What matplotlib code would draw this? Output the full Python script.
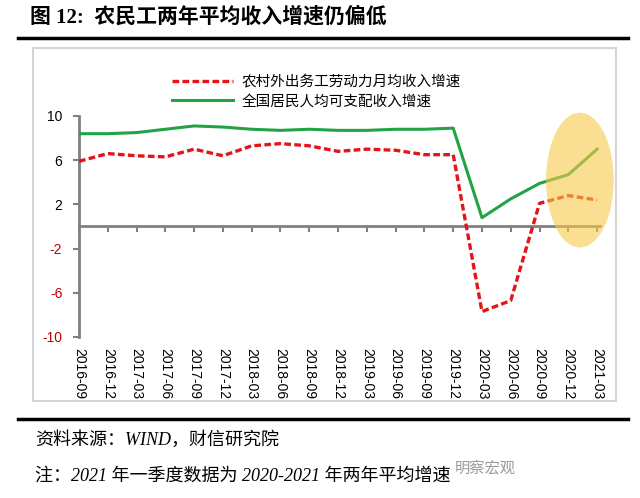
import matplotlib.pyplot as plt
from matplotlib.patches import Ellipse, Rectangle
from matplotlib.lines import Line2D

plt.rcParams['font.family'] = ['Liberation Sans', 'Noto Sans CJK SC']

# data
quarters = ['2016-09', '2016-12', '2017-03', '2017-06', '2017-09', '2017-12',
            '2018-03', '2018-06', '2018-09', '2018-12', '2019-03', '2019-06',
            '2019-09', '2019-12', '2020-03', '2020-06', '2020-09', '2020-12',
            '2021-03']
migrant = [5.9, 6.6, 6.4, 6.3, 7.0, 6.4, 7.3, 7.5, 7.3, 6.8, 7.0, 6.9,
           6.5, 6.5, -7.7, -6.7, 2.1, 2.8, 2.4]
resident = [8.4, 8.4, 8.5, 8.8, 9.1, 9.0, 8.8, 8.7, 8.8, 8.7, 8.7, 8.8,
            8.8, 8.9, 0.8, 2.5, 3.9, 4.7, 7.0]
yticks = [10, 6, 2, -2, -6, -10]
label_migrant = '农村外出务工劳动力月均收入增速'
label_resident = '全国居民人均可支配收入增速'

W, H = 640, 498
fig = plt.figure(figsize=(W / 100, H / 100), dpi=100)

def fx(px):
    return px / W

def fy(py):
    return 1 - py / H

# title, rules and frame
fig.text(fx(30), fy(17), '图 12:  农民工两年平均收入增速仍偏低', fontsize=15,
         fontweight='bold', va='center', ha='left',
         family=['Liberation Serif', 'Noto Sans CJK SC'])
fig.add_artist(Line2D([fx(18), fx(628)], [fy(38), fy(38)], color='black', lw=2.5))
fig.add_artist(Line2D([fx(18), fx(628)], [fy(419), fy(419)], color='black', lw=2.5))
fig.add_artist(Rectangle((fx(33), fy(401)), fx(616) - fx(33), fy(48) - fy(401),
                         fill=False, edgecolor='#d4d4d4', lw=1.5))

ax = fig.add_axes([fx(79), fy(337), fx(600) - fx(79), fy(116) - fy(337)])
x = list(range(len(quarters)))

ax.plot(x, resident, color='#22a346', lw=2.2, label=label_resident, zorder=3)
ax.plot(x, migrant, color='#e4141b', lw=2.4, linestyle=(0, (2, 1)),
        label=label_migrant, zorder=3)

# highlight on the latest quarters
ax.add_patch(Ellipse((17.4, 4.2), 2.35, 12.2, facecolor='#f7c948',
                     edgecolor='none', alpha=0.6, zorder=4, clip_on=False))

ax.set_xlim(0, 18.1)
ax.set_ylim(-10, 10)
ax.set_yticks(yticks)
ax.set_yticklabels([str(v) for v in yticks], fontsize=10)
for lab, v in zip(ax.get_yticklabels(), yticks):
    lab.set_color('#c00000' if v < 0 else 'black')

for s in ['top', 'right']:
    ax.spines[s].set_visible(False)
ax.spines['left'].set_color('#808080')
ax.spines['left'].set_linewidth(2)
ax.spines['bottom'].set_position(('data', 0))
ax.spines['bottom'].set_color('#808080')
ax.spines['bottom'].set_linewidth(2)
ax.spines['bottom'].set_zorder(2)
ax.tick_params(axis='y', length=4, width=1.5, color='#808080', pad=8)
ax.set_xticks(x[1:])
ax.tick_params(axis='x', length=4, width=1.5, color='#808080', labelbottom=False)

sec = ax.secondary_xaxis(0)
sec.set_xticks(x)
sec.set_xticklabels(quarters, rotation=-90, fontsize=10)
sec.tick_params(length=0, pad=8)
sec.spines['bottom'].set_visible(False)

ax.legend(handles=[ax.lines[1], ax.lines[0]], loc='upper left',
          bbox_to_anchor=(fx(172), fy(75)), bbox_transform=fig.transFigure,
          frameon=False, handlelength=4.2, handletextpad=0.6,
          labelspacing=0.38, borderpad=0, borderaxespad=0,
          prop={'family': ['Liberation Serif', 'Noto Sans CJK SC'], 'size': 10.5})

# source notes
note_font = ['Liberation Serif', 'Noto Sans CJK SC']
fig.text(fx(35), fy(440), '资料来源：WIND，财信研究院', fontsize=13, style='italic',
         va='center', ha='left', family=note_font)
fig.text(fx(35), fy(476), '注：2021 年一季度数据为 2020-2021 年两年平均增速', fontsize=13,
         style='italic', va='center', ha='left', family=note_font)
fig.text(fx(455), fy(468), '明察宏观', fontsize=11, color='#9a9a9a',
         va='center', ha='left')

fig.savefig('out.png', dpi=100)
